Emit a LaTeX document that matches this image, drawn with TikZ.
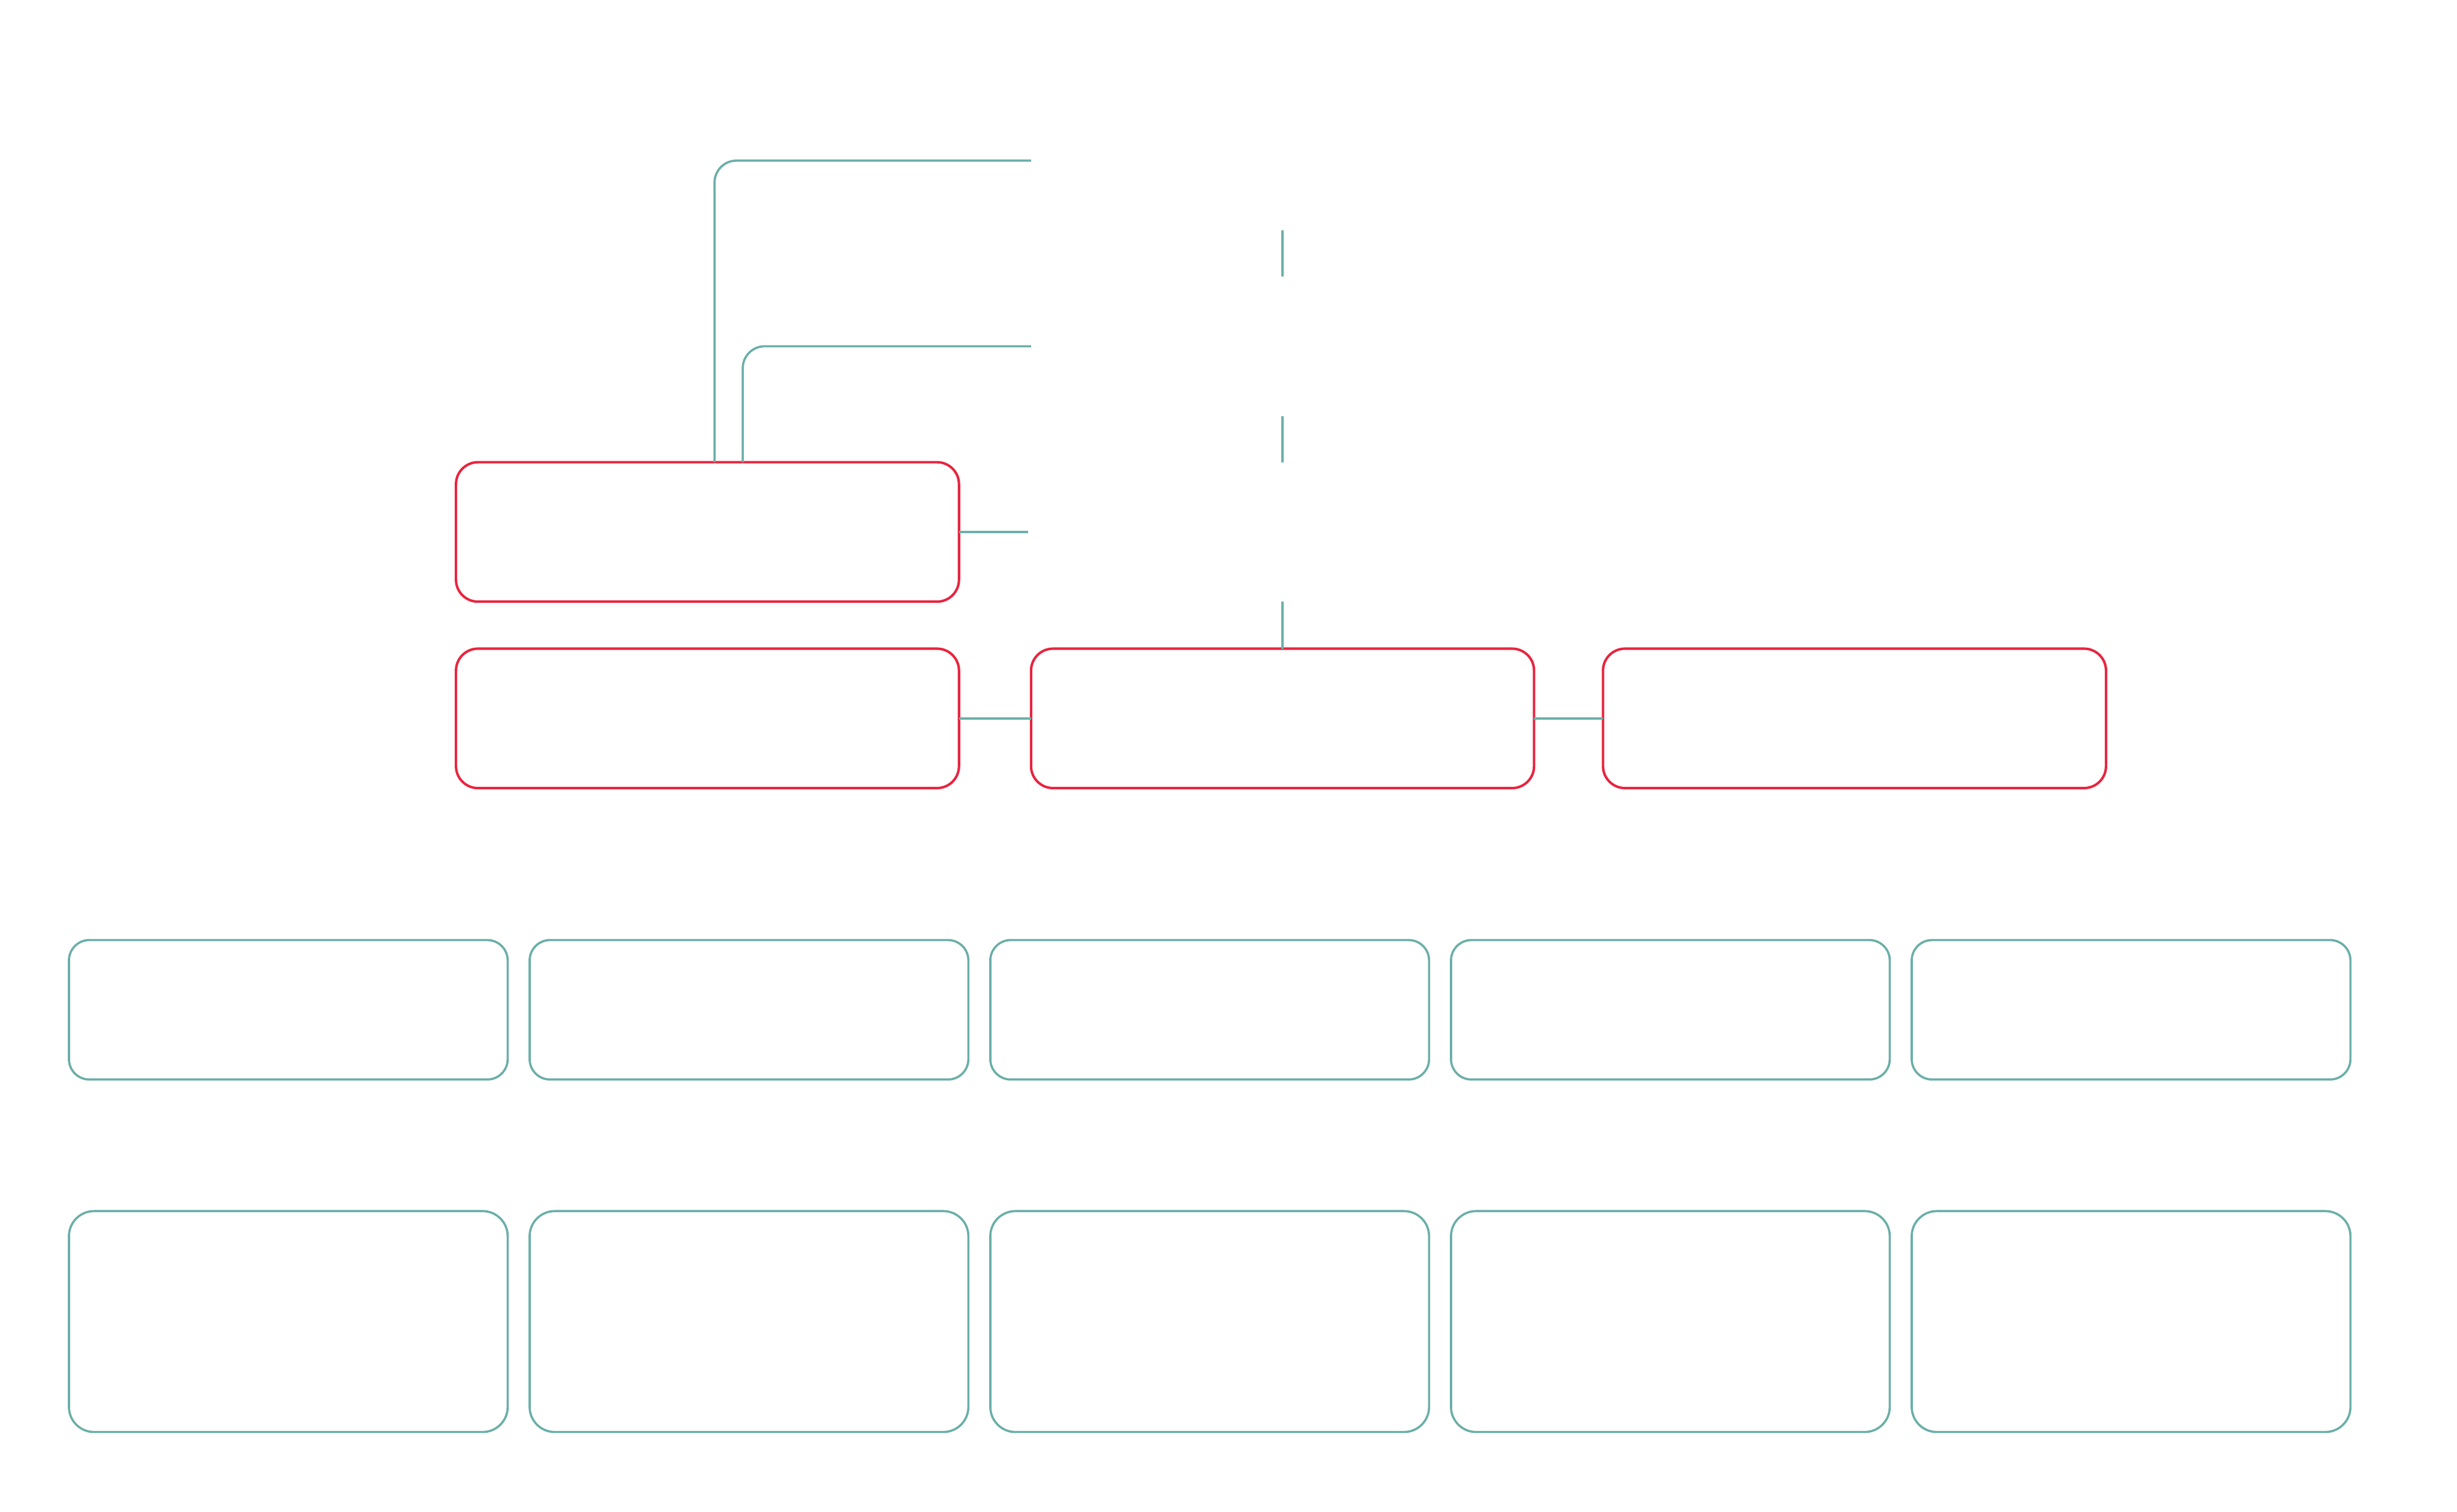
\documentclass[tikz,border=0pt]{standalone}
\definecolor{boxred}{RGB}{233,36,63}
\definecolor{linkteal}{RGB}{106,175,168}
\tikzset{
  redbox/.style={draw=boxred, line width=0.45pt, rounded corners=1.4mm,
    minimum width=32.1mm, minimum height=8.9mm, inner sep=0pt, outer sep=0pt},
  hidbox/.style={minimum width=32.1mm, minimum height=8.9mm, inner sep=0pt, outer sep=0pt},
  tealbox/.style={draw=linkteal, line width=0.4pt, rounded corners=1.3mm,
    minimum width=28mm, minimum height=8.9mm, inner sep=0pt, outer sep=0pt},
  tallbox/.style={tealbox, rounded corners=1.6mm, minimum height=14.1mm},
  link/.style={draw=linkteal, line width=0.4pt}
}
\begin{document}
\begin{tikzpicture}[x=0.1mm,y=-0.1mm]
  \useasboundingbox (0,0) rectangle (1568,965);
  % ---------- Upper column (no frame) ----------
  \node[hidbox] (up1) at (818.5,102.5) {};
  \node[hidbox] (up2) at (818.5,221) {};
  \node[hidbox] (up3) at (818.5,339.5) {};

  % ---------- Red boxes ----------
  \node[redbox] (ra) at (451.5,339.5) {};
  \node[redbox] (rb) at (451.5,458.5) {};
  \node[redbox] (rc) at (818.5,458.5) {};
  \node[redbox] (rd) at (1183.5,458.5) {};

  % ---------- Connectors ----------
  \draw[link, rounded corners=1.4mm] ([xshift=0.45mm]ra.north) |- (up1.west);
  \draw[link, rounded corners=1.4mm] ([xshift=2.25mm]ra.north) |- (up2.west);
  \draw[link] (ra.east) -- ([xshift=-0.2mm]up3.west);
  \draw[link] (rb.east) -- (rc.west);
  \draw[link] (rc.east) -- (rd.west);
  \draw[link] (up1.south) -- (up2.north);
  \draw[link] (up2.south) -- (up3.north);
  \draw[link] (up3.south) -- (rc.north);

  % ---------- Lower rows ----------
  \foreach \i/\x in {1/184,2/478,3/772,4/1066,5/1360} {
    \node[tealbox] (ta\i) at (\x,644.5) {};
    \node[tallbox] (tb\i) at (\x,843.5) {};
  }
\end{tikzpicture}
\end{document}
